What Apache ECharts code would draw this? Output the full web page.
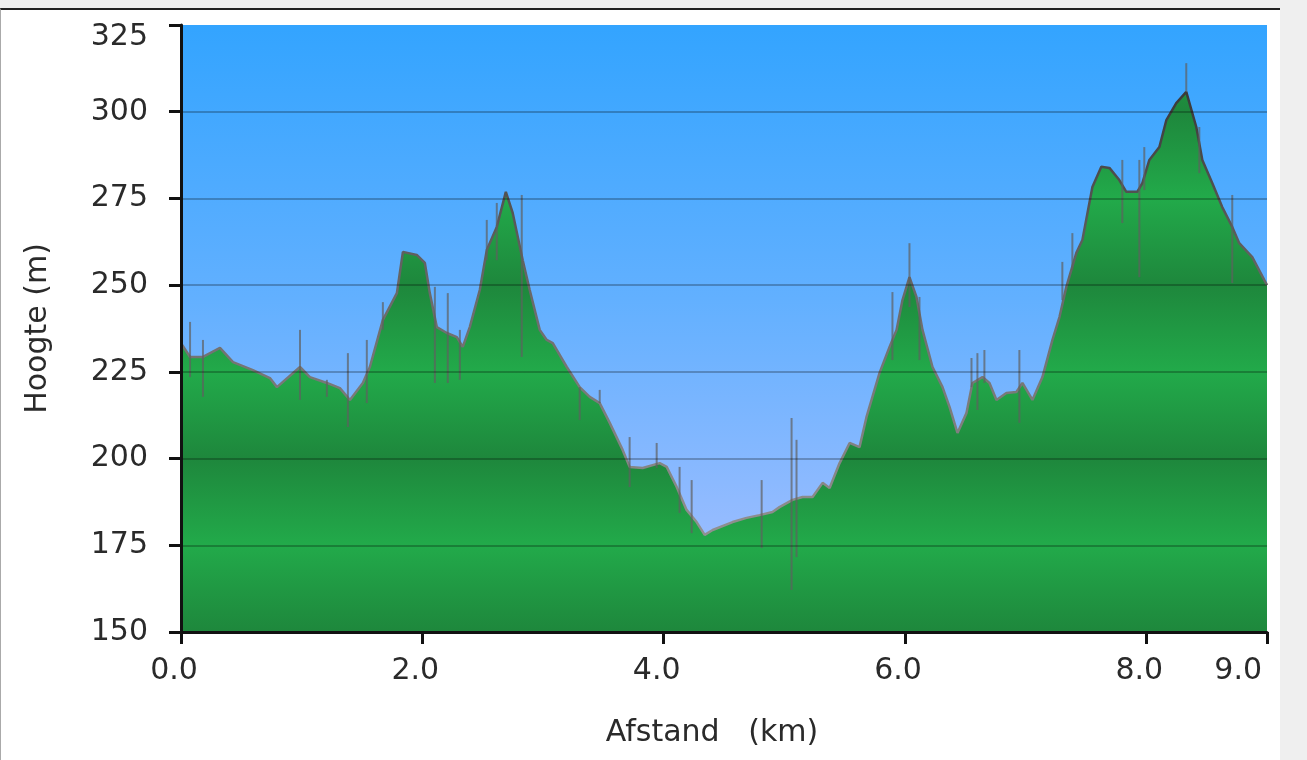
<!DOCTYPE html>
<html>
<head>
<meta charset="utf-8">
<title>Hoogteprofiel</title>
<script src="https://cdn.jsdelivr.net/npm/echarts@6/dist/echarts.min.js"></script>
<style>
  html, body { margin: 0; padding: 0; background: #efefef; }
  .panel {
    position: absolute; left: 0; top: 8px; width: 1279px; height: 760px;
    background: #fff; border-top: 2px solid #222; border-left: 1px solid #aaa;
  }
  #chart { position: absolute; left: 0; top: 0; width: 1307px; height: 760px; }
</style>
</head>
<body>
<div class="panel"></div>
<div id="chart"></div>
<script>
// afstand (km) en hoogte (m) van het profiel
const distKm = [
  0.000, 0.075, 0.182, 0.323, 0.431, 0.596, 0.737, 0.795, 0.986, 1.068,
  1.209, 1.317, 1.400, 1.507, 1.565, 1.673, 1.789, 1.839, 1.954, 2.021,
  2.062, 2.120, 2.203, 2.286, 2.335, 2.393, 2.476, 2.534, 2.617, 2.692,
  2.749, 2.832, 2.890, 2.973, 3.031, 3.081, 3.197, 3.304, 3.387, 3.470,
  3.553, 3.660, 3.718, 3.826, 3.967, 4.025, 4.108, 4.190, 4.273, 4.340,
  4.406, 4.571, 4.687, 4.795, 4.902, 4.960, 5.068, 5.151, 5.234, 5.317,
  5.375, 5.458, 5.541, 5.623, 5.681, 5.789, 5.872, 5.930, 5.979, 6.037,
  6.095, 6.145, 6.228, 6.311, 6.369, 6.435, 6.509, 6.559, 6.642, 6.700,
  6.758, 6.840, 6.923, 6.973, 7.056, 7.139, 7.222, 7.280, 7.337, 7.420,
  7.470, 7.553, 7.627, 7.694, 7.776, 7.834, 7.925, 7.967, 8.025, 8.108,
  8.166, 8.248, 8.331, 8.414, 8.464, 8.547, 8.629, 8.712, 8.770, 8.878,
  8.977, 9.000
]
const heightM = [
  233.3, 229.3, 229.3, 231.9, 227.8, 225.5, 223.2, 220.6, 226.4, 223.5,
  221.8, 220.3, 216.9, 221.8, 226.4, 240.0, 247.7, 259.6, 258.7, 256.4,
  247.7, 237.9, 236.2, 235.0, 232.2, 237.9, 248.6, 260.1, 266.8, 276.9,
  270.8, 257.2, 248.6, 237.1, 234.2, 233.3, 226.4, 220.6, 217.8, 216.0,
  210.3, 202.5, 197.6, 197.3, 198.7, 197.6, 191.8, 185.2, 181.7, 178.0,
  179.4, 181.7, 182.9, 183.7, 184.6, 186.0, 188.1, 188.9, 188.9, 193.0,
  191.5, 198.7, 204.5, 203.3, 212.0, 224.7, 232.2, 237.1, 245.7, 252.3,
  246.6, 237.1, 226.4, 220.6, 214.9, 207.4, 213.1, 221.8, 223.5, 221.8,
  216.9, 218.9, 219.2, 221.8, 216.9, 223.5, 234.2, 240.8, 249.5, 259.3,
  263.0, 278.3, 284.1, 283.8, 280.3, 276.9, 276.9, 279.4, 286.1, 289.8,
  297.6, 302.5, 305.7, 295.6, 286.1, 279.4, 272.5, 266.8, 262.1, 258.1,
  251.5, 250.0
]

// ruis in de gps-meting: [km, laag, hoog]
const spikes = [
  [0.075, 223.5, 239.4], [0.182, 217.8, 234.2], [0.986, 216.9, 237.1],
  [1.209, 217.8, 222.7], [1.383, 209.1, 230.4], [1.540, 216.0, 234.2],
  [1.673, 237.1, 245.1], [2.104, 221.8, 249.5], [2.211, 221.8, 247.7],
  [2.311, 222.7, 237.1], [2.534, 257.2, 268.8], [2.617, 257.2, 273.7],
  [2.824, 229.3, 276.0], [3.304, 211.1, 220.6], [3.470, 216.0, 219.8],
  [3.718, 191.8, 206.2], [3.942, 197.3, 204.5], [4.132, 184.3, 197.6],
  [4.232, 178.5, 193.8], [4.812, 174.2, 193.8], [5.060, 162.1, 211.7],
  [5.101, 171.6, 205.4], [5.896, 228.4, 248.0], [6.037, 243.7, 262.1],
  [6.120, 228.4, 246.6], [6.551, 220.6, 229.0], [6.600, 214.0, 230.4],
  [6.658, 221.8, 231.3], [6.948, 210.3, 231.3], [7.304, 245.7, 256.7],
  [7.387, 254.4, 265.0], [7.801, 267.9, 286.1], [7.942, 252.3, 286.1],
  [7.983, 277.4, 289.8], [8.331, 305.7, 314.0], [8.439, 282.3, 295.6],
  [8.712, 250.6, 276.0]
]

const yMin = 150, yMax = 325, yStep = 25
const xMin = 0, xMax = 9, xStep = 2

const chart = echarts.init(document.getElementById('chart'))
const font = 'DejaVu Sans, Verdana, sans-serif'
const textColor = '#2a2a2a'
const labelFont = { fontFamily: font, fontSize: 30, color: textColor }

const greenFill = new echarts.graphic.LinearGradient(0, 25, 0, 632, [
  { offset: 0, color: '#22aa4a' },
  { offset: 0.143, color: '#1e873c' },
  { offset: 0.285, color: '#22aa4a' },
  { offset: 0.428, color: '#1e873c' },
  { offset: 0.572, color: '#22aa4a' },
  { offset: 0.713, color: '#1e873c' },
  { offset: 0.857, color: '#22aa4a' },
  { offset: 1, color: '#1e873c' },
], true)

const outline = new echarts.graphic.LinearGradient(0, 25, 0, 632, [
  { offset: 0, color: '#2a2a2a' },
  { offset: 0.45, color: '#6a6a6a' },
  { offset: 1, color: '#a0a0a0' },
], true)

chart.setOption({
  animation: false,
  grid: {
    left: 181, right: 40, top: 25, bottom: 128,
    show: true, borderWidth: 0,
    backgroundColor: new echarts.graphic.LinearGradient(0, 0, 0, 1, [
      { offset: 0, color: '#33a4ff' },
      { offset: 0.45, color: '#62b0ff' },
      { offset: 0.85, color: '#98bcff' },
      { offset: 1, color: '#a8c4ff' },
    ]),
  },
  xAxis: {
    type: 'value', min: xMin, max: xMax, interval: xStep,
    name: 'Afstand   (km)', nameLocation: 'middle', nameGap: 86,
    nameTextStyle: { ...labelFont, padding: [0, 24, 0, 0] },
    axisLine: { show: true, lineStyle: { color: '#111', width: 3 } },
    axisTick: { show: true, length: 12, lineStyle: { color: '#111', width: 3 } },
    axisLabel: {
      ...labelFont, margin: 24, alignMaxLabel: 'right',
      formatter: (v) => (v === xMax ? '{m|' : '{n|') + v.toFixed(1) + '}',
      rich: {
        n: { ...labelFont, padding: [0, 14, 0, 0] },
        m: { ...labelFont, padding: [0, 5, 0, 0] },
      },
    },
    splitLine: { show: false },
    z: 5,
  },
  yAxis: {
    type: 'value', min: yMin, max: yMax, interval: yStep,
    name: 'Hoogte (m)', nameLocation: 'middle', nameGap: 128, nameRotate: 90,
    nameTextStyle: labelFont,
    axisLine: { show: true, lineStyle: { color: '#111', width: 3 } },
    axisTick: { show: true, length: 12, lineStyle: { color: '#111', width: 3 } },
    axisLabel: {
      ...labelFont, margin: 33,
      formatter: (v) => (v === yMax ? '{top|' + v + '}' : String(v)),
      rich: { top: { ...labelFont, padding: [24, 0, 0, 0] } },
    },
    splitLine: { show: true, showMinLine: false, showMaxLine: false, lineStyle: { color: 'rgba(0,0,0,0.25)', width: 2 } },
    z: 5,
  },
  series: [
    {
      type: 'line',
      data: distKm.map((d, i) => [d, heightM[i]]),
      showSymbol: false,
      smooth: false,
      lineStyle: { color: outline, width: 2.5 },
      areaStyle: { color: greenFill, opacity: 1, origin: 'start' },
      z: 2,
    },
    {
      type: 'custom',
      data: spikes,
      encode: { x: 0, y: [1, 2] },
      clip: true,
      z: 3,
      renderItem: (params, api) => {
        const lo = api.coord([api.value(0), api.value(1)])
        const hi = api.coord([api.value(0), api.value(2)])
        return {
          type: 'line',
          shape: { x1: lo[0], y1: lo[1], x2: hi[0], y2: hi[1] },
          style: { stroke: 'rgba(95,95,95,0.7)', lineWidth: 2 },
        }
      },
    },
  ],
})

window.addEventListener('resize', () => chart.resize())
</script>
</body>
</html>
